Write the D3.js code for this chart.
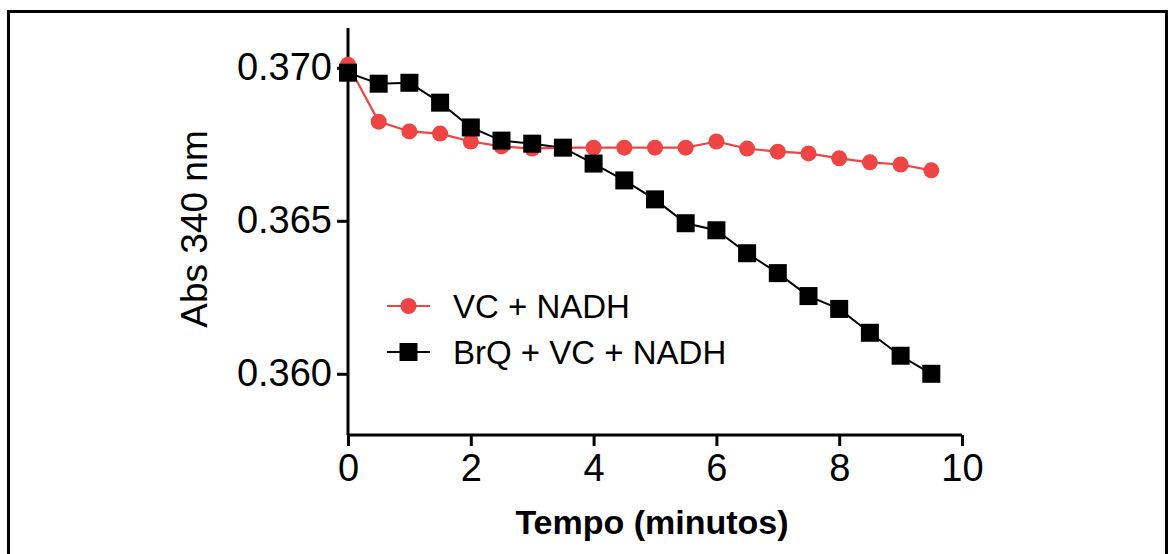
<!DOCTYPE html>
<html lang="pt">
<head>
    <meta charset="UTF-8">
    <title>Abs 340 nm vs Tempo</title>
    <script src="https://d3js.org/d3.v7.min.js"></script>
    <style>
        html, body {
            margin: 0;
            padding: 0;
            background-color: #ffffff;
        }
        svg text {
            font-family: Arial, 'Liberation Sans', sans-serif;
            fill: #000;
        }
    </style>
</head>
<body>
    <div id="graph"></div>
    <script>
        // tempo (minutos)
        const tempo = [0, 0.5, 1, 1.5, 2, 2.5, 3, 3.5, 4, 4.5, 5, 5.5, 6, 6.5, 7, 7.5, 8, 8.5, 9, 9.5];

        // VC + NADH
        const vcNadh = [0.37010, 0.36824, 0.36792, 0.36785, 0.36759, 0.36743, 0.36736, 0.36739, 0.36739, 0.36739,
                        0.36739, 0.36739, 0.36759, 0.36736, 0.36726, 0.36720, 0.36704, 0.36691, 0.36684, 0.36665];

        // BrQ + VC + NADH
        const brqVcNadh = [0.36984, 0.36948, 0.36951, 0.36886, 0.36805, 0.36762, 0.36752, 0.36739, 0.36687, 0.36632,
                           0.36570, 0.36492, 0.36469, 0.36394, 0.36329, 0.36254, 0.36212, 0.36134, 0.36059, 0.36000];

        const xTicks = [0, 2, 4, 6, 8, 10];
        const yTicks = [0.360, 0.365, 0.370];
        const seriesNames = ["VC + NADH", "BrQ + VC + NADH"];

        const width = 1171, height = 554;
        const red = "#ef4444";

        const svg = d3.select("#graph")
            .append("svg")
            .attr("width", width)
            .attr("height", height);

        // outer frame
        svg.append("path")
            .attr("d", `M8.5,${height} V11.5 H1166.5 V${height}`)
            .attr("fill", "none")
            .attr("stroke", "#000")
            .attr("stroke-width", 3);

        const x = d3.scaleLinear().domain([0, 10]).range([348, 962]);
        const y = d3.scaleLinear().domain([0.358, 0.3713]).range([435, 28]);

        // X AXIS
        const xAxis = svg.append("g")
            .attr("transform", `translate(0, ${y(0.358)})`)
            .call(d3.axisBottom(x).tickValues(xTicks).tickSize(11).tickPadding(8).tickFormat(d3.format("d")));

        // Y AXIS
        const yAxis = svg.append("g")
            .attr("transform", `translate(${x(0)}, 0)`)
            .call(d3.axisLeft(y).tickValues(yTicks).tickSize(11).tickPadding(5).tickFormat(d3.format(".3f")));

        [xAxis, yAxis].forEach(ax => {
            ax.select(".domain").attr("stroke-width", 3).attr("stroke", "#000");
            ax.selectAll(".tick line").attr("stroke-width", 3).attr("stroke", "#000");
            ax.selectAll("text").style("font-size", "38px").attr("fill", "#000");
        });
        yAxis.select(".domain").attr("d", `M0,${y(0.358)}V${y.range()[1]}`);
        xAxis.select(".domain").attr("d", `M0,0H${x(10) - x(0)}`).attr("transform", `translate(${x(0)},0)`);

        // axis titles
        svg.append("text")
            .attr("x", 652)
            .attr("y", 534)
            .attr("text-anchor", "middle")
            .style("font-size", "34px")
            .style("font-weight", "bold")
            .text("Tempo (minutos)");

        svg.append("text")
            .attr("transform", "translate(207, 229) rotate(-90)")
            .attr("text-anchor", "middle")
            .style("font-size", "37px")
            .text("Abs 340 nm");

        const line = d3.line()
            .x((d, i) => x(tempo[i]))
            .y(d => y(d));

        // BrQ + VC + NADH
        svg.append("path")
            .datum(brqVcNadh)
            .attr("d", line)
            .attr("fill", "none")
            .attr("stroke", "#000")
            .attr("stroke-width", 2);

        // VC + NADH
        svg.append("path")
            .datum(vcNadh)
            .attr("d", line)
            .attr("fill", "none")
            .attr("stroke", red)
            .attr("stroke-width", 2.2);

        svg.selectAll(".pt-red")
            .data(vcNadh).enter()
            .append("circle")
            .attr("class", "pt-red")
            .attr("cx", (d, i) => x(tempo[i]))
            .attr("cy", d => y(d))
            .attr("r", 8)
            .attr("fill", red);

        svg.selectAll(".pt-black")
            .data(brqVcNadh).enter()
            .append("rect")
            .attr("class", "pt-black")
            .attr("x", (d, i) => x(tempo[i]) - 9)
            .attr("y", d => y(d) - 9)
            .attr("width", 18)
            .attr("height", 18)
            .attr("fill", "#000");

        // LEGEND
        const legend = svg.append("g").attr("transform", "translate(387, 306)");
        seriesNames.forEach((name, i) => {
            const g = legend.append("g").attr("transform", `translate(0, ${i * 46})`);
            const col = i === 0 ? red : "#000";
            g.append("line")
                .attr("x1", 0).attr("x2", 43)
                .attr("stroke", col)
                .attr("stroke-width", 2.2);
            if (i === 0) {
                g.append("circle").attr("cx", 21.5).attr("r", 8).attr("fill", col);
            } else {
                g.append("rect").attr("x", 12.5).attr("y", -9).attr("width", 18).attr("height", 18).attr("fill", col);
            }
            g.append("text")
                .attr("x", 66)
                .attr("y", 12)
                .style("font-size", "33px")
                .text(name);
        });
    </script>
</body>
</html>
